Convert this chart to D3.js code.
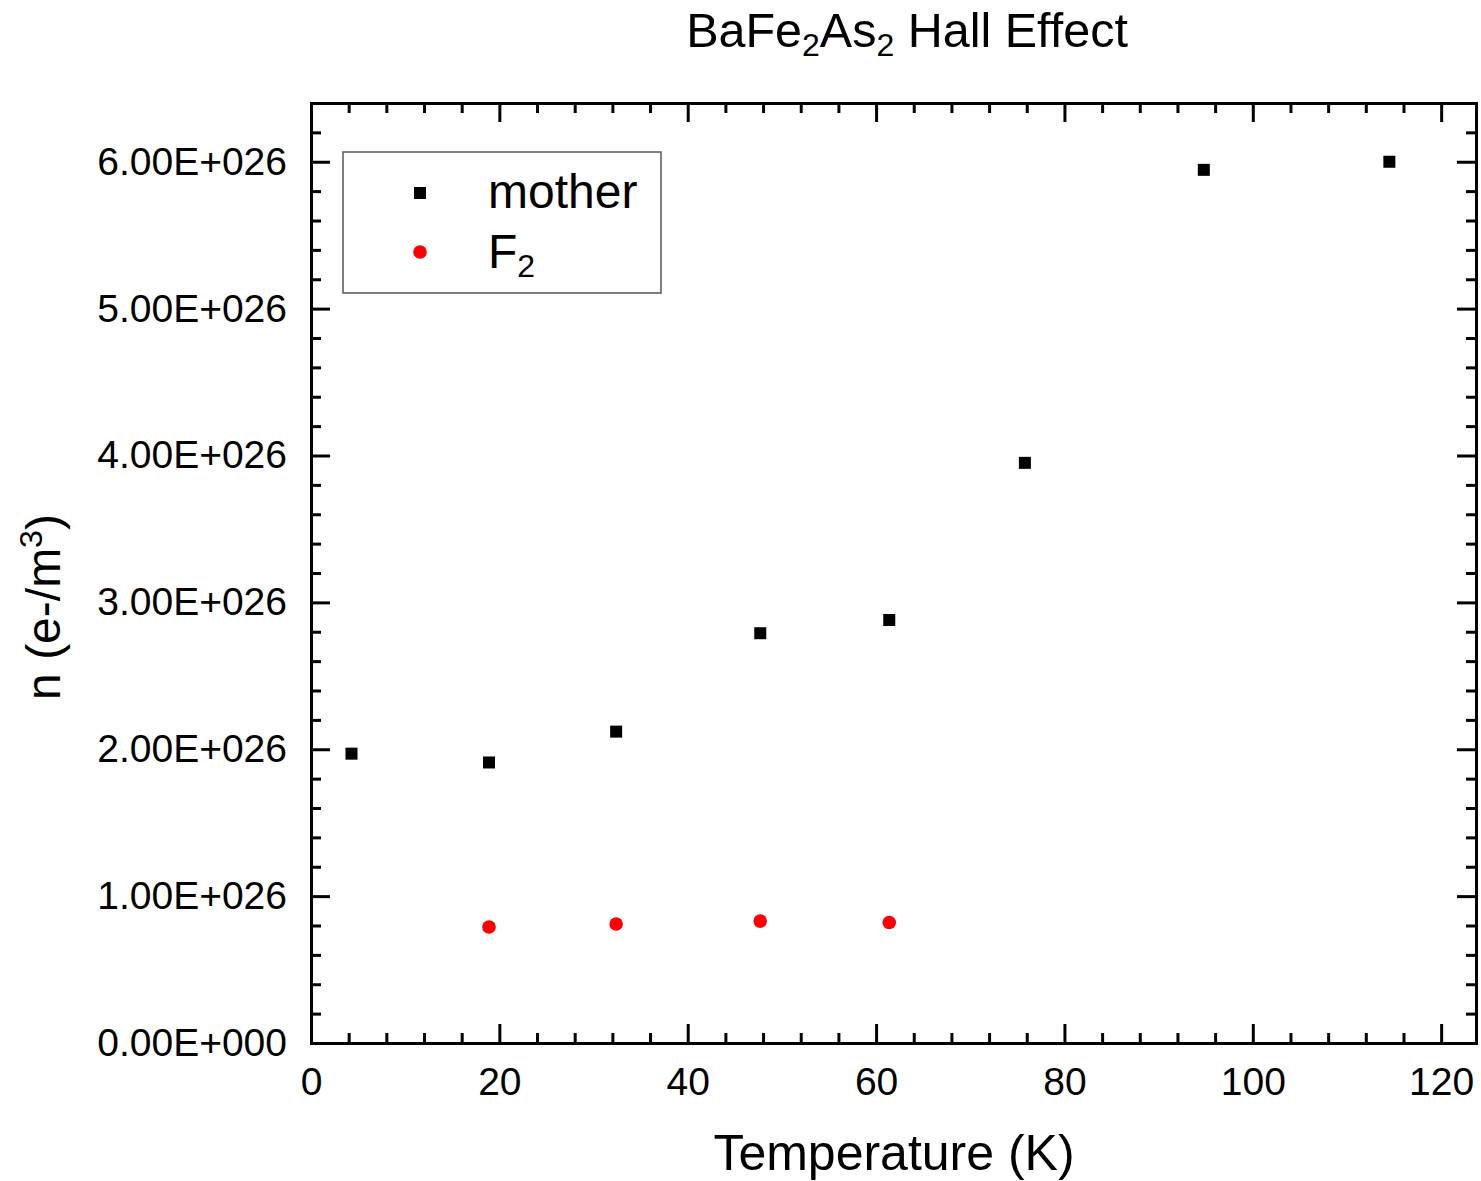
<!DOCTYPE html>
<html>
<head>
<meta charset="utf-8">
<script src="https://cdn.jsdelivr.net/npm/d3@7"></script>
<style>
  body { margin: 0; background: #fff; }
  svg { display: block; font-family: 'Liberation Sans', Arial, sans-serif; }
  .axis path, .axis line { stroke: #000; stroke-width: 3; }
  .axis text { font-size: 39px; fill: #000; }
</style>
</head>
<body>
<svg id="main_chart" width="1481" height="1181"></svg>
<script>
(function() {
  // temperature in K, carrier density in e-/m^3
  const temperature_mother = [4.3, 18.9, 32.4, 47.7, 61.4, 75.8, 94.8, 114.5];
  const n_mother = [1.97e26, 1.91e26, 2.12e26, 2.79e26, 2.88e26, 3.95e26, 5.945e26, 6.0e26];
  const temperature_f2 = [18.9, 32.4, 47.7, 61.4];
  const n_f2 = [0.79e26, 0.81e26, 0.83e26, 0.82e26];

  const x_major = [0, 20, 40, 60, 80, 100, 120];
  const y_major = [0, 1e26, 2e26, 3e26, 4e26, 5e26, 6e26];

  const left = 311, right = 1476, top = 103, bottom = 1043;

  const xScale = d3.scaleLinear().domain([0, 123.7]).range([left, right]);
  const yScale = d3.scaleLinear().domain([0, 6.4e26]).range([bottom, top]);

  const x_minor = d3.range(4, 124, 4).filter(function(d) { return d % 20 !== 0; });
  const y_minor = d3.range(1, 33).map(function(d) { return d * 0.2e26; })
    .filter(function(d, i) { return (i + 1) % 5 !== 0; });

  const yFormat = function(d) {
    if (d === 0) return '0.00E+000';
    return (d / 1e26).toFixed(2) + 'E+026';
  };

  const svg = d3.select('#main_chart');

  // major + minor ticks on all four sides, pointing inward
  function drawAxis(axisFn, scale, major, minor, transform, labels, fmt) {
    const g = svg.append('g').attr('class', 'axis').attr('transform', transform);
    g.call(axisFn(scale).tickValues(minor).tickSize(-10).tickFormat(''));
    const g2 = svg.append('g').attr('class', 'axis').attr('transform', transform);
    g2.call(axisFn(scale).tickValues(major).tickSize(-19).tickPadding(labels ? 38 : 0)
      .tickFormat(labels ? fmt : ''));
    return g2;
  }

  const xb = drawAxis(d3.axisBottom, xScale, x_major, x_minor, 'translate(0,' + bottom + ')', true, d3.format('d'));
  xb.selectAll('text').attr('dy', '0.71em').attr('y', 24);
  drawAxis(d3.axisTop, xScale, x_major, x_minor, 'translate(0,' + top + ')', false);
  const yl = drawAxis(d3.axisLeft, yScale, y_major, y_minor, 'translate(' + left + ',0)', true, yFormat);
  yl.selectAll('text').attr('x', -24);
  drawAxis(d3.axisRight, yScale, y_major, y_minor, 'translate(' + right + ',0)', false);

  svg.selectAll('.axis path').attr('stroke-linecap', 'square');

  // data points
  const plot = svg.append('g').attr('id', 'points');
  const sq = 12;
  plot.selectAll('rect.mother').data(temperature_mother).enter().append('rect')
    .attr('class', 'mother')
    .attr('width', sq).attr('height', sq)
    .attr('x', function(d) { return xScale(d) - sq / 2; })
    .attr('y', function(d, i) { return yScale(n_mother[i]) - sq / 2; })
    .attr('fill', '#000');
  plot.selectAll('circle.f2').data(temperature_f2).enter().append('circle')
    .attr('class', 'f2')
    .attr('r', 6.8)
    .attr('cx', function(d) { return xScale(d); })
    .attr('cy', function(d, i) { return yScale(n_f2[i]); })
    .attr('fill', '#ff0000');

  // legend
  const legend = svg.append('g').attr('id', 'legend');
  legend.append('rect').attr('x', 343).attr('y', 152).attr('width', 318).attr('height', 141)
    .attr('fill', '#fff').attr('stroke', '#555').attr('stroke-width', 1.5);
  legend.append('rect').attr('x', 420 - sq / 2).attr('y', 193 - sq / 2).attr('width', sq).attr('height', sq).attr('fill', '#000');
  legend.append('circle').attr('cx', 420).attr('cy', 252).attr('r', 6.8).attr('fill', '#ff0000');
  legend.append('text').attr('x', 488).attr('y', 208).attr('font-size', 48).text('mother');
  const f2 = legend.append('text').attr('x', 488).attr('y', 268).attr('font-size', 48);
  f2.append('tspan').text('F');
  f2.append('tspan').attr('font-size', 32).attr('dy', 9).text('2');

  // title
  const title = svg.append('text').attr('x', 907).attr('y', 47).attr('text-anchor', 'middle').attr('font-size', 48.5);
  title.append('tspan').text('BaFe');
  title.append('tspan').attr('font-size', 32).attr('dy', 9).text('2');
  title.append('tspan').attr('dy', -9).text('As');
  title.append('tspan').attr('font-size', 32).attr('dy', 9).text('2');
  title.append('tspan').attr('dy', -9).text(' Hall Effect');

  // axis titles
  svg.append('text').attr('x', 894).attr('y', 1170).attr('text-anchor', 'middle').attr('font-size', 50)
    .text('Temperature (K)');
  const ylab = svg.append('text').attr('transform', 'translate(60,607) rotate(-90)')
    .attr('text-anchor', 'middle').attr('font-size', 48);
  ylab.append('tspan').text('n (e-/m');
  ylab.append('tspan').attr('font-size', 32).attr('dy', -18).text('3');
  ylab.append('tspan').attr('dy', 18).text(')');
}());
</script>
</body>
</html>
